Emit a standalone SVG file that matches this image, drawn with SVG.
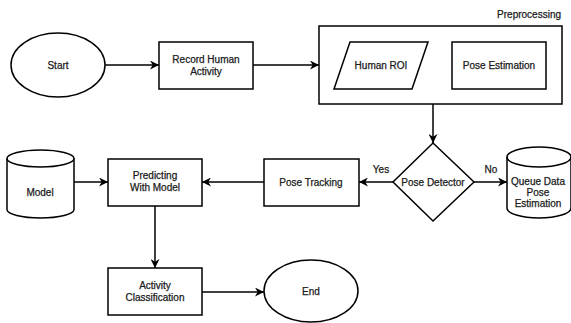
<svg xmlns="http://www.w3.org/2000/svg" width="571" height="323" viewBox="0 0 571 323">
<defs>
<marker id="arr" viewBox="0 0 10 10" refX="10" refY="5" markerWidth="9" markerHeight="9" markerUnits="userSpaceOnUse" orient="auto">
<path d="M0,0 L10,5 L0,10 L3,5 Z" fill="#000"/>
</marker>
</defs>
<style>
.s{fill:#fff;stroke:#000;stroke-width:1.5}
.t{font-family:"Liberation Sans",Arial,sans-serif;font-size:10px;fill:#1a1a1a;stroke:#1a1a1a;stroke-width:0.25;text-anchor:middle}
.e{fill:none;stroke:#000;stroke-width:1.5;marker-end:url(#arr)}
</style>
<rect width="571" height="323" fill="#fff"/>
<g id="connectors">
<line class="e" x1="105" y1="65" x2="159" y2="65"/>
<line class="e" x1="253" y1="65" x2="319" y2="65"/>
<line class="e" x1="421" y1="65" x2="452" y2="65"/>
<line class="e" x1="433" y1="104" x2="433" y2="143"/>
<line class="e" x1="393" y1="182" x2="359" y2="182"/>
<line class="e" x1="474" y1="182" x2="507" y2="182"/>
<line class="e" x1="264" y1="182" x2="202" y2="182"/>
<line class="e" x1="74" y1="182" x2="108" y2="182"/>
<line class="e" x1="155" y1="206" x2="155" y2="268"/>
<line class="e" x1="202" y1="292" x2="264" y2="292"/>
<text class="t" x="381" y="173">Yes</text>
<text class="t" x="491" y="173">No</text>
</g>
<g id="start">
<ellipse class="s" cx="58" cy="65" rx="47" ry="32"/>
<text class="t" x="58" y="69">Start</text>
</g>
<g id="record">
<rect class="s" x="159" y="42" width="94" height="47"/>
<text class="t" x="206" y="63">Record Human</text>
<text class="t" x="206" y="75">Activity</text>
</g>
<g id="preprocessing">
<rect class="s" x="319" y="26" width="243" height="78"/>
<text class="t" x="561" y="18" style="text-anchor:end">Preprocessing</text>
</g>
<g id="roi">
<polygon class="s" points="350,42 428,42 412,89 334,89"/>
<text class="t" x="381" y="69">Human ROI</text>
</g>
<g id="pose-estimation">
<rect class="s" x="452" y="42" width="94" height="47"/>
<text class="t" x="499" y="69">Pose Estimation</text>
</g>
<g id="detector">
<polygon class="s" points="433,143 474,182 433,221 393,182"/>
<text class="t" x="433" y="186">Pose Detector</text>
</g>
<g id="tracking">
<rect class="s" x="264" y="159" width="95" height="47"/>
<text class="t" x="311" y="186">Pose Tracking</text>
</g>
<g id="queue">
<path class="s" d="M507,157 A32,10 0 0 1 571,157 L571,208 A32,10 0 0 1 507,208 Z"/>
<path class="s" style="fill:none" d="M507,157 A32,10 0 0 0 571,157"/>
<text class="t" x="538" y="185">Queue Data</text>
<text class="t" x="538" y="196">Pose</text>
<text class="t" x="538" y="207">Estimation</text>
</g>
<g id="model">
<path class="s" d="M7,158.5 A33.5,8.5 0 0 1 74,158.5 L74,209.5 A33.5,8.5 0 0 1 7,209.5 Z"/>
<path class="s" style="fill:none" d="M7,158.5 A33.5,8.5 0 0 0 74,158.5"/>
<text class="t" x="40" y="196">Model</text>
</g>
<g id="predicting">
<rect class="s" x="108" y="159" width="94" height="47"/>
<text class="t" x="155" y="179">Predicting</text>
<text class="t" x="155" y="191">With Model</text>
</g>
<g id="activity">
<rect class="s" x="108" y="268" width="94" height="47"/>
<text class="t" x="155" y="289">Activity</text>
<text class="t" x="155" y="301">Classification</text>
</g>
<g id="end">
<ellipse class="s" cx="311" cy="291" rx="47" ry="31"/>
<text class="t" x="311" y="295">End</text>
</g>
</svg>
